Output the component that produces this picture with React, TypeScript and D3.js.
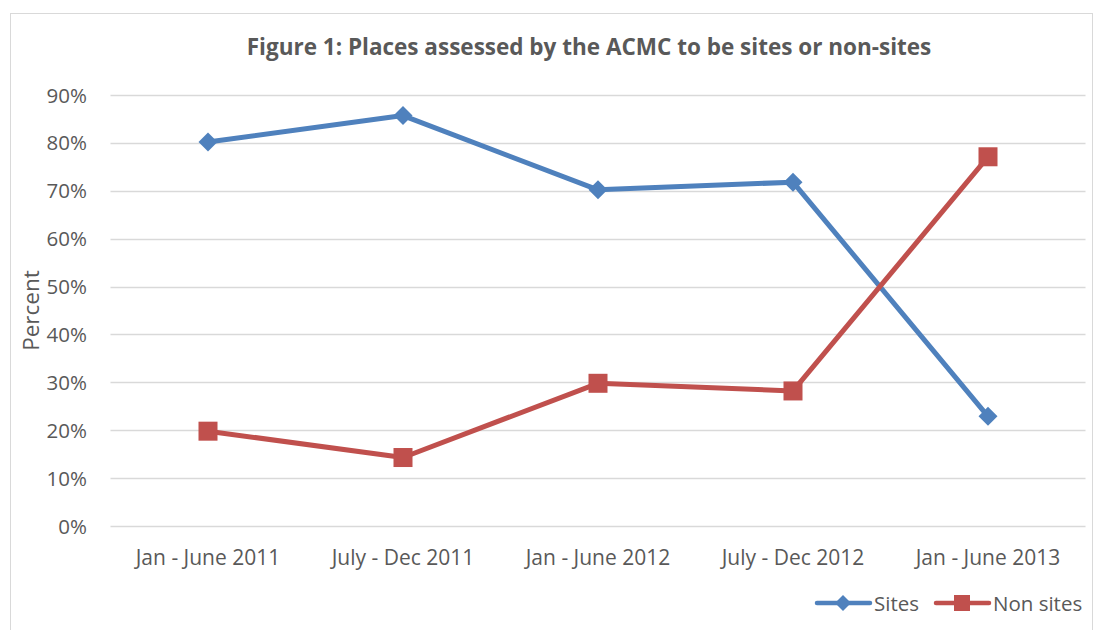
import * as d3 from 'd3';

const categories = ['Jan - June 2011', 'July - Dec 2011', 'Jan - June 2012', 'July - Dec 2012', 'Jan - June 2013'];
const sites = [0.802, 0.857, 0.702, 0.718, 0.229];
const nonSites = [0.198, 0.143, 0.298, 0.282, 0.771];
const yTicks = [0, 0.1, 0.2, 0.3, 0.4, 0.5, 0.6, 0.7, 0.8, 0.9];

const W = 1096, H = 630;
const PAD = { l: 110.5, r: 1085.5, t: 95, b: 526 };
const BLUE = '#4F81BD', RED = '#C0504D', TXT = '#595959', GRID = '#D9D9D9';
const FONT = '"Open Sans", "Liberation Sans", sans-serif';

export default function App() {
  const x = d3.scaleBand<string>().domain(categories).range([PAD.l, PAD.r]);
  const y = d3.scaleLinear().domain([0, 0.9]).range([PAD.b, PAD.t]);
  const cx = (i: number) => (x(categories[i]) ?? 0) + x.bandwidth() / 2;
  const line = d3.line<number>().x((_, i) => cx(i)).y(d => y(d));
  const fmt = d3.format('.0%');

  const diamond = (px: number, py: number, r: number, key?: string | number) => (
    <path key={key} d={`M${px},${py - r}L${px + r},${py}L${px},${py + r}L${px - r},${py}Z`} fill={BLUE} />
  );
  const square = (px: number, py: number, s: number, key?: string | number) => (
    <rect key={key} x={px - s / 2} y={py - s / 2} width={s} height={s} fill={RED} />
  );

  return (
    <svg width={W} height={H} style={{ position: 'absolute', left: 0, top: 0, background: '#fff' }} fontFamily={FONT}>
      <rect x={10.5} y={13.5} width={1082} height={640} fill="#fff" stroke="#D9D9D9" strokeWidth={1} />
      <text x={589} y={55} textAnchor="middle" fontSize={22.5} fontWeight="bold" fill={TXT}>
        Figure 1: Places assessed by the ACMC to be sites or non-sites
      </text>

      {yTicks.map(t => (
        <g key={t}>
          <line x1={PAD.l} x2={PAD.r} y1={Math.round(y(t)) + 0.5} y2={Math.round(y(t)) + 0.5} stroke={GRID} strokeWidth={1.5} />
          <text x={87} y={y(t) + 7.5} textAnchor="end" fontSize={20.5} fill={TXT}>{fmt(t)}</text>
        </g>
      ))}

      <text transform={`translate(39,${(PAD.t + PAD.b) / 2}) rotate(-90)`} textAnchor="middle" fontSize={22.5} fill={TXT}>Percent</text>

      {categories.map((c, i) => (
        <text key={c} x={cx(i)} y={564.5} textAnchor="middle" fontSize={21} fill={TXT}>{c}</text>
      ))}

      <path d={line(sites) ?? ''} fill="none" stroke={BLUE} strokeWidth={5} strokeLinejoin="round" />
      {sites.map((v, i) => diamond(cx(i), y(v), 9.5, i))}

      <path d={line(nonSites) ?? ''} fill="none" stroke={RED} strokeWidth={5} strokeLinejoin="round" />
      {nonSites.map((v, i) => square(cx(i), y(v), 19, i))}

      {/* legend */}
      <line x1={817} x2={870} y1={603} y2={603} stroke={BLUE} strokeWidth={4.5} strokeLinecap="round" />
      {diamond(843, 603, 8)}
      <text x={874} y={610.5} fontSize={20.5} fill={TXT}>Sites</text>
      <line x1={936} x2={989} y1={603} y2={603} stroke={RED} strokeWidth={4.5} strokeLinecap="round" />
      {square(962, 603, 16)}
      <text x={993} y={610.5} fontSize={20.5} fill={TXT}>Non sites</text>
    </svg>
  );
}
